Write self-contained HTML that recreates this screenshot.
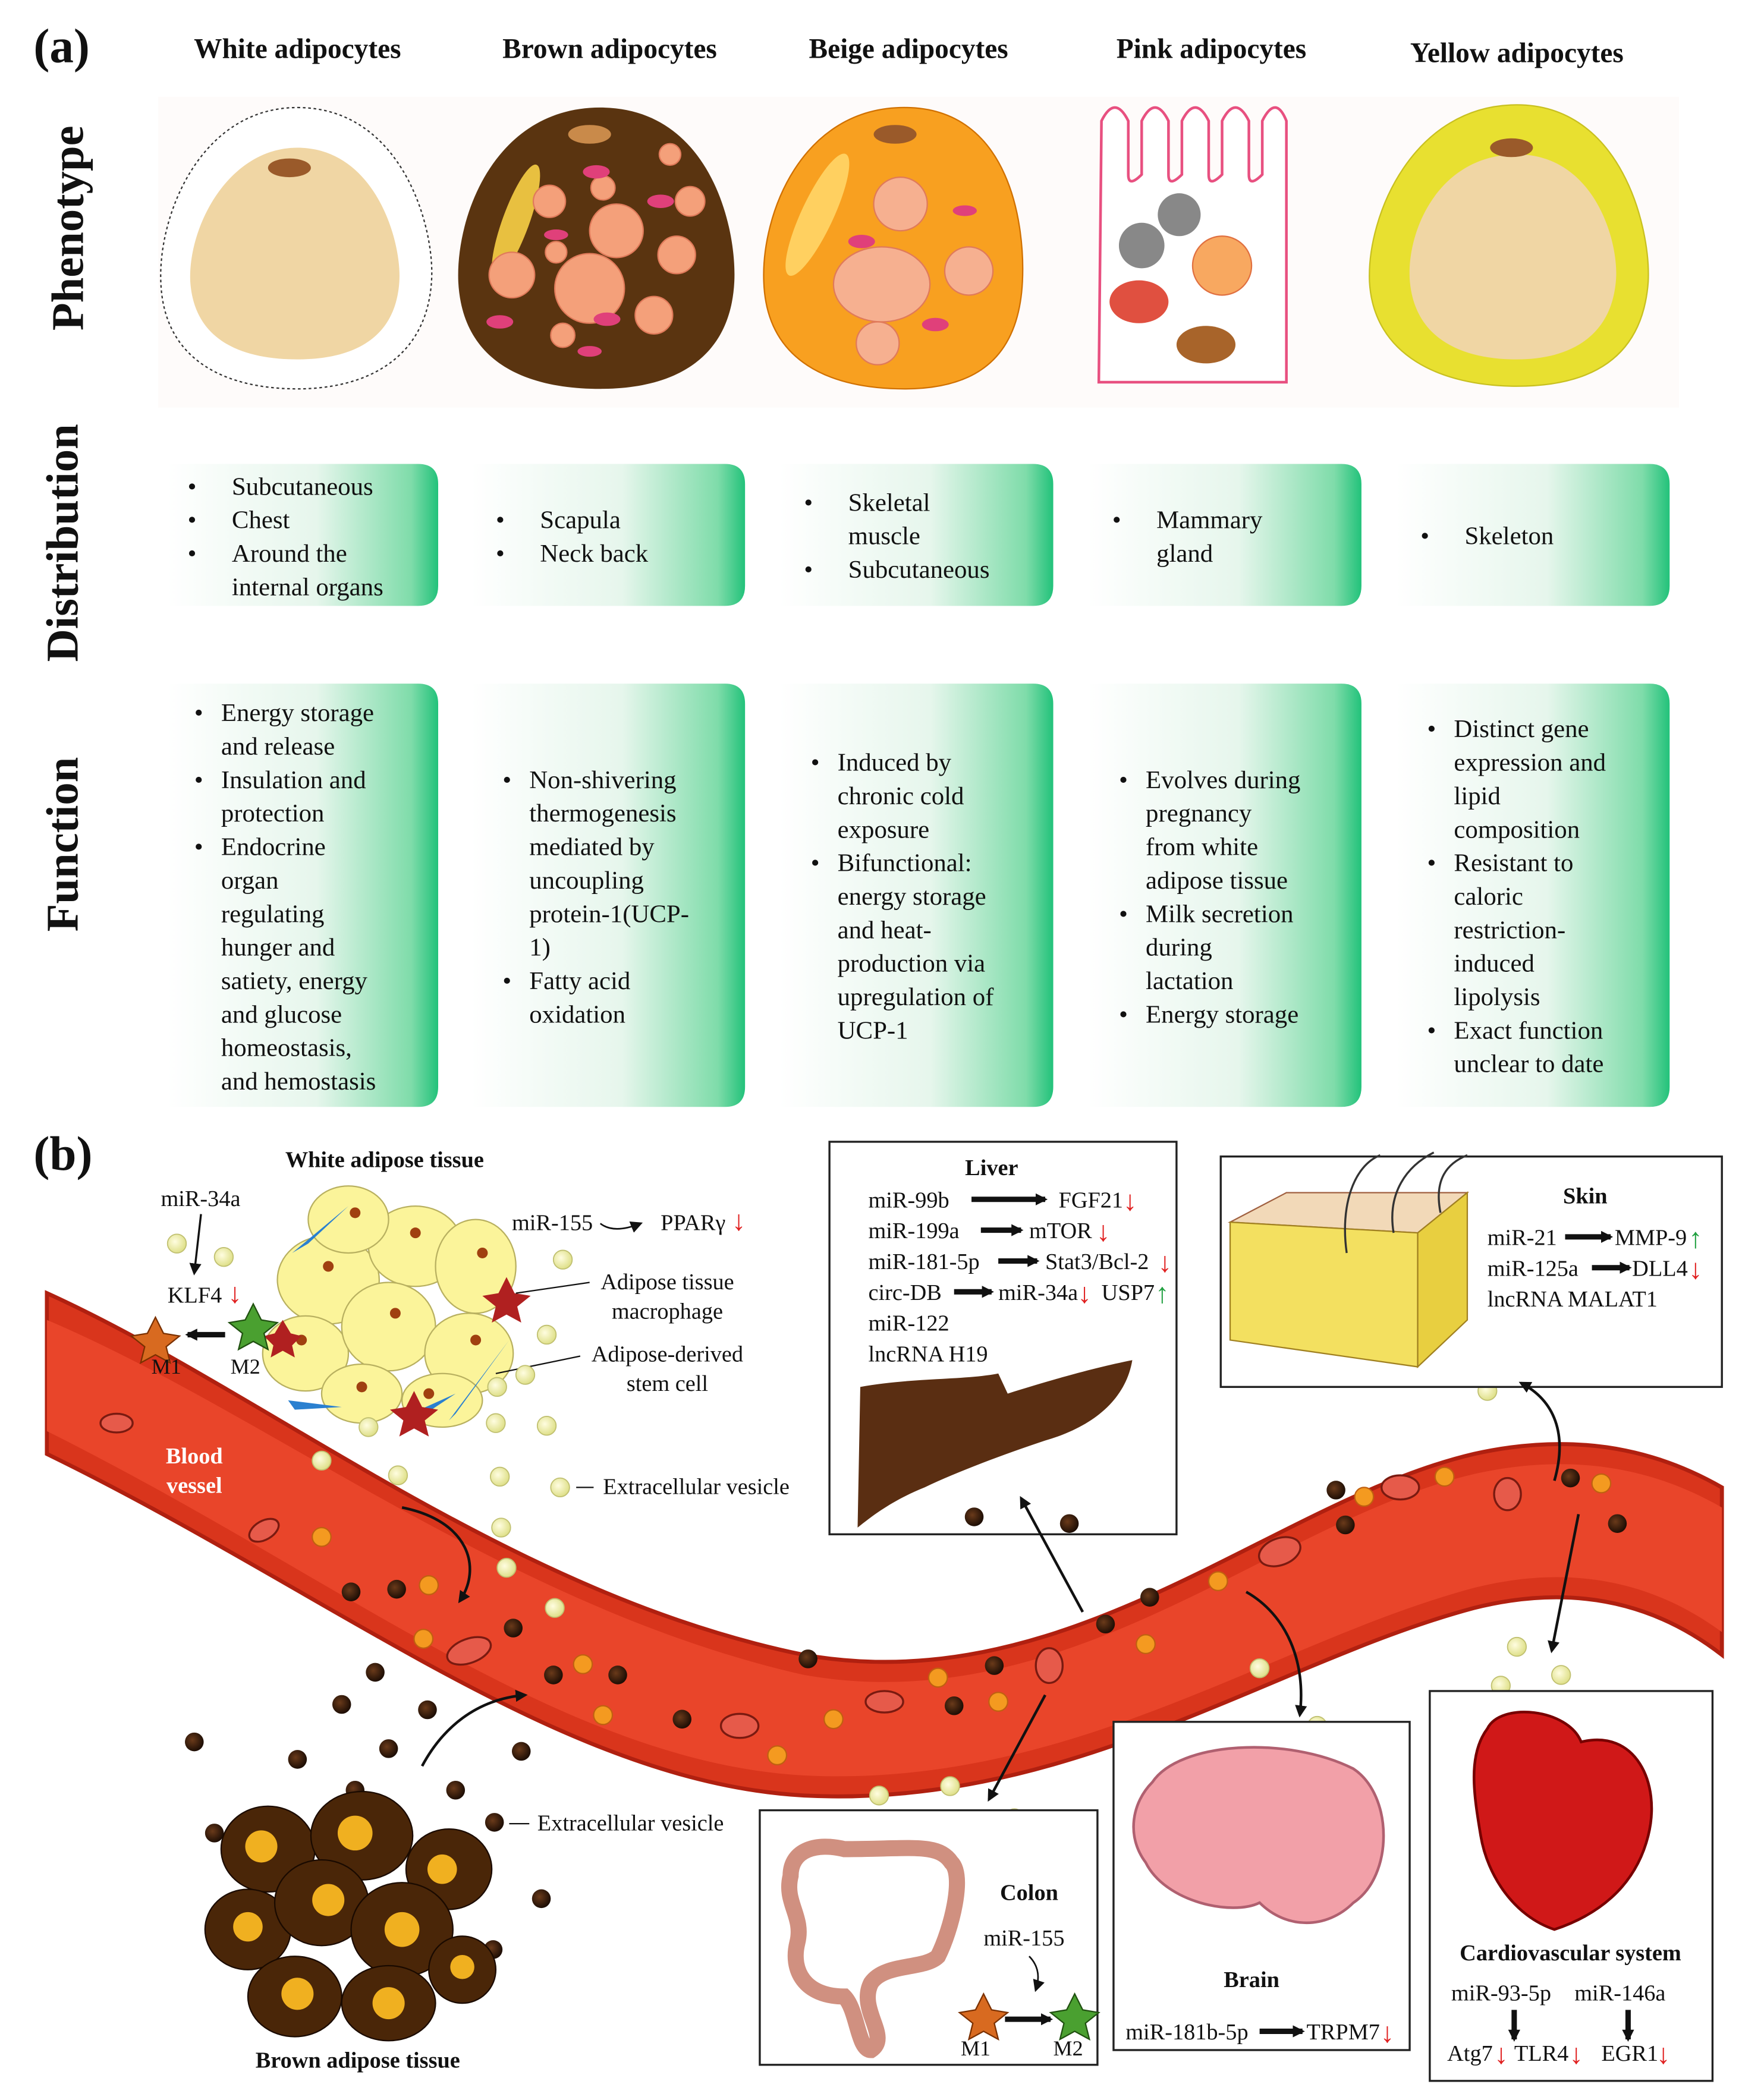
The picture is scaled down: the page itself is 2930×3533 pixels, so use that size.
<!DOCTYPE html>
<html><head><meta charset="utf-8">
<style>
html,body{margin:0;padding:0;background:#fff;}
svg{display:block;}
text{font-family:"Liberation Serif",serif;fill:#111;}
.b{font-weight:bold;}
.r{fill:#e02020;font-size:21px;font-weight:bold;}
.gr{fill:#20a040;font-size:21px;font-weight:bold;}
</style></head>
<body>
<svg width="2930" height="3533" viewBox="0 0 1300 1567" xmlns="http://www.w3.org/2000/svg">
<defs>
<linearGradient id="g" x1="0" x2="1" y1="0" y2="0">
<stop offset="0" stop-color="#ffffff"/><stop offset="0.55" stop-color="#e6f6ec"/><stop offset="0.9" stop-color="#7fdcaa"/><stop offset="1" stop-color="#22c27a"/>
</linearGradient>
<marker id="ar" viewBox="0 0 10 10" refX="8" refY="5" markerWidth="9" markerHeight="9" markerUnits="userSpaceOnUse" orient="auto"><path d="M0,0L10,5L0,10z" fill="#111"/></marker>
<radialGradient id="ev" cx="0.4" cy="0.4" r="0.6"><stop offset="0" stop-color="#fffde0"/><stop offset="1" stop-color="#dfe08a"/></radialGradient>
<radialGradient id="dv" cx="0.4" cy="0.4" r="0.6"><stop offset="0" stop-color="#6a3a1a"/><stop offset="1" stop-color="#1e0e05"/></radialGradient>
</defs>

<text x="25" y="46" class="b" font-size="36">(a)</text>
<g class="b" font-size="21" text-anchor="middle">
<text x="222" y="43" class="b">White adipocytes</text>
<text x="455" y="43" class="b">Brown adipocytes</text>
<text x="678" y="43" class="b">Beige adipocytes</text>
<text x="904" y="43" class="b">Pink adipocytes</text>
<text x="1132" y="46" class="b">Yellow adipocytes</text>
</g>
<g font-size="34" class="b" text-anchor="middle">
<text transform="translate(62,170) rotate(-90)" class="b">Phenotype</text>
<text transform="translate(58,405) rotate(-90)" class="b">Distribution</text>
<text transform="translate(58,630) rotate(-90)" class="b">Function</text>
</g>
<rect x="118" y="72" width="1135" height="232" fill="#fefbfa"/>

<path d="M222,80 C300,80 325,170 322,210 C318,270 270,290 222,290 C170,290 122,270 120,210 C118,160 150,80 222,80z" fill="#fff" stroke="#333" stroke-dasharray="2,2"/>
<path d="M222,110 C280,110 300,180 298,210 C295,255 260,268 222,268 C182,268 145,255 142,210 C140,170 170,110 222,110z" fill="#f0d6a4"/>
<ellipse cx="216" cy="125" rx="16" ry="7" fill="#9a5a2a"/>
<path d="M448,80 C530,80 550,170 548,210 C545,270 500,290 448,290 C392,290 345,270 342,210 C340,160 370,80 448,80z" fill="#5a3410"/>
<ellipse cx="440" cy="100" rx="16" ry="7" fill="#c98a4a"/>
<ellipse cx="385" cy="165" rx="10" ry="45" fill="#e8c040" transform="rotate(20 385 165)"/>
<g fill="#f4a07a" stroke="#e07a5a">
<circle cx="460" cy="172" r="20"/><circle cx="410" cy="150" r="12"/><circle cx="450" cy="140" r="9"/><circle cx="382" cy="205" r="17"/><circle cx="440" cy="215" r="26"/><circle cx="505" cy="190" r="14"/><circle cx="515" cy="150" r="11"/><circle cx="488" cy="235" r="14"/><circle cx="415" cy="188" r="8"/><circle cx="420" cy="250" r="9"/><circle cx="500" cy="115" r="8"/>
</g>
<g fill="#e0407a"><ellipse cx="445" cy="128" rx="10" ry="5"/><ellipse cx="493" cy="150" rx="10" ry="5"/><ellipse cx="415" cy="175" rx="9" ry="4"/><ellipse cx="373" cy="240" rx="10" ry="5"/><ellipse cx="453" cy="238" rx="10" ry="5"/><ellipse cx="440" cy="262" rx="9" ry="4"/></g>
<path d="M675,80 C755,80 765,170 763,210 C760,270 725,290 675,290 C620,290 572,270 570,210 C568,160 598,80 675,80z" fill="#f8a020" stroke="#d07000"/>
<ellipse cx="610" cy="160" rx="12" ry="50" fill="#ffd060" transform="rotate(25 610 160)"/>
<ellipse cx="668" cy="100" rx="16" ry="7" fill="#9a5a2a"/>
<g fill="#f6b090" stroke="#e07a5a"><circle cx="672" cy="152" r="20"/><ellipse cx="658" cy="212" rx="36" ry="28"/><circle cx="723" cy="202" r="18"/><circle cx="655" cy="256" r="16"/></g>
<g fill="#e0407a"><ellipse cx="643" cy="180" rx="10" ry="5"/><ellipse cx="720" cy="157" rx="9" ry="4"/><ellipse cx="698" cy="242" rx="10" ry="5"/></g>
<path d="M822,90 q10,-20 20,0 v40 q0,10 10,0 v-40 q10,-20 20,0 v40 q0,10 10,0 v-40 q10,-20 20,0 v40 q0,10 10,0 v-40 q10,-20 20,0 v40 q0,10 10,0 v-40 q10,-20 18,0 v195 h-140 z" fill="#fff" stroke="#e85080" stroke-width="2"/>
<circle cx="852" cy="183" r="17" fill="#888"/><circle cx="880" cy="160" r="16" fill="#888"/>
<circle cx="912" cy="198" r="22" fill="#f8a860" stroke="#e07040"/>
<ellipse cx="850" cy="225" rx="22" ry="16" fill="#e05040"/>
<ellipse cx="900" cy="257" rx="22" ry="14" fill="#a8642a"/>
<path d="M1132,78 C1210,78 1232,170 1230,210 C1226,265 1190,288 1132,288 C1075,288 1025,265 1022,210 C1020,160 1055,78 1132,78z" fill="#e8e030" stroke="#c8c020"/>
<path d="M1132,115 C1190,115 1208,180 1206,208 C1203,252 1170,268 1132,268 C1090,268 1055,252 1052,208 C1050,170 1075,115 1132,115z" fill="#f0d6a4"/>
<ellipse cx="1128" cy="110" rx="16" ry="7" fill="#9a5a2a"/>

<g fill="url(#g)">
<path d="M125,346 H312 Q327,346 327,361 V437 Q327,452 312,452 H125z"/>
<path d="M352,346 H541 Q556,346 556,361 V437 Q556,452 541,452 H352z"/>
<path d="M582,346 H771 Q786,346 786,361 V437 Q786,452 771,452 H582z"/>
<path d="M812,346 H1001 Q1016,346 1016,361 V437 Q1016,452 1001,452 H812z"/>
<path d="M1042,346 H1231 Q1246,346 1246,361 V437 Q1246,452 1231,452 H1042z"/>
</g>
<g font-size="19">
<text x="140" y="369">•</text><text x="173" y="369">Subcutaneous</text>
<text x="140" y="394">•</text><text x="173" y="394">Chest</text>
<text x="140" y="419">•</text><text x="173" y="419">Around the</text>
<text x="173" y="444">internal organs</text>
<text x="370" y="394">•</text><text x="403" y="394">Scapula</text>
<text x="370" y="419">•</text><text x="403" y="419">Neck back</text>
<text x="600" y="381">•</text><text x="633" y="381">Skeletal</text>
<text x="633" y="406">muscle</text>
<text x="600" y="431">•</text><text x="633" y="431">Subcutaneous</text>
<text x="830" y="394">•</text><text x="863" y="394">Mammary</text>
<text x="863" y="419">gland</text>
<text x="1060" y="406">•</text><text x="1093" y="406">Skeleton</text>
</g>

<g fill="url(#g)">
<path d="M125,510 H312 Q327,510 327,525 V811 Q327,826 312,826 H125z"/>
<path d="M352,510 H541 Q556,510 556,525 V811 Q556,826 541,826 H352z"/>
<path d="M582,510 H771 Q786,510 786,525 V811 Q786,826 771,826 H582z"/>
<path d="M812,510 H1001 Q1016,510 1016,525 V811 Q1016,826 1001,826 H812z"/>
<path d="M1042,510 H1231 Q1246,510 1246,525 V811 Q1246,826 1231,826 H1042z"/>
</g>
<g font-size="19">
<text x="145" y="538">•</text><text x="165" y="538">Energy storage</text><text x="165" y="563">and release</text>
<text x="145" y="588">•</text><text x="165" y="588">Insulation and</text><text x="165" y="613">protection</text>
<text x="145" y="638">•</text><text x="165" y="638">Endocrine</text><text x="165" y="663">organ</text><text x="165" y="688">regulating</text><text x="165" y="713">hunger and</text><text x="165" y="738">satiety, energy</text><text x="165" y="763">and glucose</text><text x="165" y="788">homeostasis,</text><text x="165" y="813">and hemostasis</text>
<text x="375" y="588">•</text><text x="395" y="588">Non-shivering</text><text x="395" y="613">thermogenesis</text><text x="395" y="638">mediated by</text><text x="395" y="663">uncoupling</text><text x="395" y="688">protein-1(UCP-</text><text x="395" y="713">1)</text>
<text x="375" y="738">•</text><text x="395" y="738">Fatty acid</text><text x="395" y="763">oxidation</text>
<text x="605" y="575">•</text><text x="625" y="575">Induced by</text><text x="625" y="600">chronic cold</text><text x="625" y="625">exposure</text>
<text x="605" y="650">•</text><text x="625" y="650">Bifunctional:</text><text x="625" y="675">energy storage</text><text x="625" y="700">and heat-</text><text x="625" y="725">production via</text><text x="625" y="750">upregulation of</text><text x="625" y="775">UCP-1</text>
<text x="835" y="588">•</text><text x="855" y="588">Evolves during</text><text x="855" y="613">pregnancy</text><text x="855" y="638">from white</text><text x="855" y="663">adipose tissue</text>
<text x="835" y="688">•</text><text x="855" y="688">Milk secretion</text><text x="855" y="713">during</text><text x="855" y="738">lactation</text>
<text x="835" y="763">•</text><text x="855" y="763">Energy storage</text>
<text x="1065" y="550">•</text><text x="1085" y="550">Distinct gene</text><text x="1085" y="575">expression and</text><text x="1085" y="600">lipid</text><text x="1085" y="625">composition</text>
<text x="1065" y="650">•</text><text x="1085" y="650">Resistant to</text><text x="1085" y="675">caloric</text><text x="1085" y="700">restriction-</text><text x="1085" y="725">induced</text><text x="1085" y="750">lipolysis</text>
<text x="1065" y="775">•</text><text x="1085" y="775">Exact function</text><text x="1085" y="800">unclear to date</text>
</g>

<text x="25" y="873" class="b" font-size="36">(b)</text>

<path d="M35,965 C200,1040 380,1190 600,1235 C800,1270 950,1120 1100,1085 C1190,1065 1250,1090 1285,1110 L1285,1235 C1240,1200 1180,1180 1100,1200 C950,1240 800,1350 600,1340 C420,1330 250,1190 35,1085z" fill="#d9351c" stroke="#b02010" stroke-width="3"/>
<path d="M35,985 C200,1055 380,1200 600,1250 C800,1285 950,1135 1100,1100 C1190,1080 1250,1105 1285,1125 L1285,1218 C1240,1185 1180,1165 1100,1185 C950,1225 800,1335 600,1325 C420,1315 250,1175 35,1068z" fill="#e9452a"/>
<text x="145" y="1092" class="b" font-size="17" text-anchor="middle" style="fill:#fff">Blood</text>
<text x="145" y="1114" class="b" font-size="17" text-anchor="middle" style="fill:#fff">vessel</text>
<g fill="#e65a4a" stroke="#7a1a10" stroke-width="1.5">
<ellipse cx="87" cy="1062" rx="12" ry="7"/><ellipse cx="197" cy="1142" rx="12" ry="7" transform="rotate(-30 197 1142)"/><ellipse cx="350" cy="1232" rx="17" ry="9" transform="rotate(-20 350 1232)"/><ellipse cx="552" cy="1288" rx="14" ry="9"/><ellipse cx="660" cy="1270" rx="14" ry="8"/><ellipse cx="783" cy="1243" rx="10" ry="13"/><ellipse cx="955" cy="1158" rx="16" ry="10" transform="rotate(-20 955 1158)"/><ellipse cx="1045" cy="1110" rx="14" ry="9"/><ellipse cx="1125" cy="1115" rx="10" ry="12"/>
</g>
<g fill="url(#dv)">
<circle cx="262" cy="1188" r="7"/><circle cx="296" cy="1186" r="7"/><circle cx="383" cy="1215" r="7"/><circle cx="413" cy="1250" r="7"/><circle cx="461" cy="1250" r="7"/><circle cx="509" cy="1283" r="7"/><circle cx="603" cy="1238" r="7"/><circle cx="712" cy="1273" r="7"/><circle cx="742" cy="1243" r="7"/><circle cx="825" cy="1212" r="7"/><circle cx="858" cy="1192" r="7"/><circle cx="997" cy="1112" r="7"/><circle cx="1004" cy="1138" r="7"/><circle cx="1172" cy="1103" r="7"/><circle cx="1207" cy="1137" r="7"/>
</g>
<g fill="#f49a20" stroke="#c06010">
<circle cx="240" cy="1147" r="7"/><circle cx="320" cy="1183" r="7"/><circle cx="316" cy="1223" r="7"/><circle cx="435" cy="1242" r="7"/><circle cx="450" cy="1280" r="7"/><circle cx="580" cy="1310" r="7"/><circle cx="622" cy="1283" r="7"/><circle cx="700" cy="1252" r="7"/><circle cx="745" cy="1270" r="7"/><circle cx="855" cy="1227" r="7"/><circle cx="909" cy="1180" r="7"/><circle cx="1018" cy="1117" r="7"/><circle cx="1078" cy="1102" r="7"/><circle cx="1195" cy="1107" r="7"/>
</g>

<text x="287" y="871" class="b" font-size="17" text-anchor="middle">White adipose tissue</text>
<g fill="#fbf49a" stroke="#b8b060">
<ellipse cx="245" cy="955" rx="38" ry="33"/><ellipse cx="310" cy="930" rx="35" ry="30"/><ellipse cx="355" cy="945" rx="30" ry="35"/><ellipse cx="228" cy="1010" rx="32" ry="28"/><ellipse cx="290" cy="990" rx="35" ry="33"/><ellipse cx="350" cy="1010" rx="33" ry="30"/><ellipse cx="270" cy="1040" rx="30" ry="22"/><ellipse cx="330" cy="1045" rx="30" ry="20"/><ellipse cx="260" cy="910" rx="30" ry="25"/>
</g>
<g fill="#a04010"><circle cx="245" cy="945" r="4"/><circle cx="310" cy="920" r="4"/><circle cx="360" cy="935" r="4"/><circle cx="225" cy="1000" r="4"/><circle cx="295" cy="980" r="4"/><circle cx="355" cy="1000" r="4"/><circle cx="270" cy="1035" r="4"/><circle cx="320" cy="1040" r="4"/><circle cx="265" cy="905" r="4"/></g>
<g fill="#2a80d0"><path d="M218,935 L260,900 L230,928z"/><path d="M300,1058 L340,1040 L310,1060z"/><path d="M215,1045 L255,1050 L220,1052z"/><path d="M335,1060 L380,1000 L340,1055z"/></g>
<g fill="#b02020"><path d="M372,965 l6,-12 l6,12 l12,2 l-10,8 l3,12 l-11,-6 l-11,6 l3,-12 l-10,-8z"/><path d="M303,1050 l6,-12 l6,12 l12,2 l-10,8 l3,12 l-11,-6 l-11,6 l3,-12 l-10,-8z"/><path d="M205,995 l6,-10 l6,10 l8,2 l-7,7 l2,9 l-9,-5 l-9,5 l2,-9 l-7,-7z"/></g>
<text x="120" y="900" font-size="17">miR-34a</text>
<line x1="150" y1="906" x2="145" y2="950" stroke="#111" stroke-width="1.5" marker-end="url(#ar)"/>
<text x="125" y="972" font-size="17">KLF4</text>
<text x="170" y="972" class="r">↓</text>
<path d="M110,995 l6,-12 l6,12 l12,2 l-10,8 l3,12 l-11,-6 l-11,6 l3,-12 l-10,-8z" fill="#d86a20" stroke="#7a3000"/>
<path d="M183,985 l6,-12 l6,12 l12,2 l-10,8 l3,12 l-11,-6 l-11,6 l3,-12 l-10,-8z" fill="#4aa030" stroke="#205010"/>
<line x1="168" y1="996" x2="140" y2="996" stroke="#111" stroke-width="4" marker-end="url(#ar)"/>
<text x="113" y="1025" font-size="16">M1</text><text x="172" y="1025" font-size="16">M2</text>
<text x="382" y="918" font-size="17">miR-155</text>
<path d="M448,913 q10,8 30,0" fill="none" stroke="#111" stroke-width="1.2" marker-end="url(#ar)"/>
<text x="493" y="918" font-size="17">PPARγ</text>
<text x="546" y="918" class="r">↓</text>
<text x="498" y="962" font-size="17" text-anchor="middle">Adipose tissue</text>
<text x="498" y="984" font-size="17" text-anchor="middle">macrophage</text>
<line x1="440" y1="957" x2="385" y2="965" stroke="#111"/>
<text x="498" y="1016" font-size="17" text-anchor="middle">Adipose-derived</text>
<text x="498" y="1038" font-size="17" text-anchor="middle">stem cell</text>
<line x1="433" y1="1012" x2="370" y2="1025" stroke="#111"/>
<g fill="url(#ev)" stroke="#c0c070" stroke-width="0.8">
<circle cx="132" cy="928" r="7"/><circle cx="167" cy="938" r="7"/><circle cx="420" cy="940" r="7"/><circle cx="408" cy="996" r="7"/><circle cx="392" cy="1026" r="7"/><circle cx="371" cy="1035" r="7"/><circle cx="370" cy="1062" r="7"/><circle cx="408" cy="1064" r="7"/><circle cx="275" cy="1065" r="7"/><circle cx="240" cy="1090" r="7"/><circle cx="297" cy="1101" r="7"/><circle cx="373" cy="1102" r="7"/><circle cx="418" cy="1110" r="7"/><circle cx="374" cy="1140" r="7"/><circle cx="378" cy="1170" r="7"/><circle cx="414" cy="1200" r="7"/><circle cx="768" cy="1095" r="7"/><circle cx="1125" cy="991" r="7"/><circle cx="1153" cy="1013" r="7"/><circle cx="1110" cy="1038" r="7"/><circle cx="1132" cy="1229" r="7"/><circle cx="1165" cy="1250" r="7"/><circle cx="1120" cy="1258" r="7"/><circle cx="940" cy="1245" r="7"/><circle cx="983" cy="1288" r="7"/><circle cx="656" cy="1340" r="7"/><circle cx="709" cy="1333" r="7"/><circle cx="757" cy="1357" r="7"/>
</g>
<line x1="430" y1="1110" x2="443" y2="1110" stroke="#111"/>
<text x="450" y="1115" font-size="17">Extracellular vesicle</text>
<path d="M300,1125 C350,1135 360,1170 343,1195" fill="none" stroke="#111" stroke-width="2" marker-end="url(#ar)"/>

<g fill="url(#dv)">
<circle cx="280" cy="1248" r="7"/><circle cx="255" cy="1272" r="7"/><circle cx="319" cy="1276" r="7"/><circle cx="290" cy="1305" r="7"/><circle cx="145" cy="1300" r="7"/><circle cx="222" cy="1313" r="7"/><circle cx="265" cy="1336" r="7"/><circle cx="340" cy="1336" r="7"/><circle cx="389" cy="1307" r="7"/><circle cx="369" cy="1360" r="7"/><circle cx="404" cy="1417" r="7"/><circle cx="368" cy="1455" r="7"/><circle cx="160" cy="1368" r="7"/>
</g>
<path d="M315,1318 C330,1290 355,1268 392,1265" fill="none" stroke="#111" stroke-width="2" marker-end="url(#ar)"/>
<line x1="380" y1="1361" x2="395" y2="1361" stroke="#111"/>
<text x="401" y="1366" font-size="17">Extracellular vesicle</text>
<g fill="#4a2608" stroke="#1a0a00">
<ellipse cx="200" cy="1380" rx="35" ry="32"/><ellipse cx="270" cy="1370" rx="38" ry="33"/><ellipse cx="335" cy="1395" rx="32" ry="30"/><ellipse cx="185" cy="1440" rx="32" ry="30"/><ellipse cx="240" cy="1420" rx="35" ry="32"/><ellipse cx="300" cy="1440" rx="38" ry="35"/><ellipse cx="220" cy="1490" rx="35" ry="30"/><ellipse cx="290" cy="1495" rx="35" ry="28"/><ellipse cx="345" cy="1470" rx="25" ry="25"/>
</g>
<g fill="#f0b020">
<circle cx="195" cy="1378" r="12"/><circle cx="265" cy="1368" r="13"/><circle cx="330" cy="1395" r="11"/><circle cx="185" cy="1438" r="11"/><circle cx="245" cy="1418" r="12"/><circle cx="300" cy="1440" r="13"/><circle cx="222" cy="1488" r="12"/><circle cx="290" cy="1495" r="12"/><circle cx="345" cy="1468" r="9"/>
</g>
<text x="267" y="1543" class="b" font-size="17" text-anchor="middle">Brown adipose tissue</text>

<rect x="619" y="852" width="259" height="293" fill="#fff" stroke="#222" stroke-width="1.5"/>
<text x="740" y="877" class="b" font-size="17" text-anchor="middle">Liver</text>
<g font-size="17">
<text x="648" y="901">miR-99b</text><text x="790" y="901">FGF21</text><text x="838" y="903" class="r">↓</text>
<text x="648" y="924">miR-199a</text><text x="768" y="924">mTOR</text><text x="818" y="926" class="r">↓</text>
<text x="648" y="947">miR-181-5p</text><text x="780" y="947">Stat3/Bcl-2</text><text x="864" y="949" class="r">↓</text>
<text x="648" y="970">circ-DB</text><text x="745" y="970">miR-34a</text><text x="804" y="972" class="r">↓</text><text x="822" y="970">USP7</text><text x="862" y="972" class="gr">↑</text>
<text x="648" y="993">miR-122</text>
<text x="648" y="1016">lncRNA H19</text>
</g>
<g stroke="#111" stroke-width="4" marker-end="url(#ar)">
<line x1="725" y1="895" x2="780" y2="895"/><line x1="732" y1="918" x2="762" y2="918"/><line x1="745" y1="941" x2="774" y2="941"/><line x1="712" y1="964" x2="740" y2="964"/>
</g>
<path d="M640,1140 L642,1035 C680,1028 720,1030 745,1025 L752,1040 C790,1028 820,1020 845,1015 C840,1045 815,1065 780,1075 C750,1085 715,1098 690,1110 C665,1120 650,1132 640,1140z" fill="#5a2e12"/>
<circle cx="727" cy="1132" r="7" fill="url(#dv)"/><circle cx="798" cy="1137" r="7" fill="url(#dv)"/>
<line x1="808" y1="1203" x2="762" y2="1118" stroke="#111" stroke-width="2" marker-end="url(#ar)"/>

<rect x="911" y="863" width="374" height="172" fill="#fff" stroke="#222" stroke-width="1.5"/>
<path d="M918,912 L960,890 L1095,890 L1058,920z" fill="#f2d9b8" stroke="#a06040"/>
<path d="M918,912 L1058,920 L1058,1020 L918,1000z" fill="#f3e060" stroke="#a08020"/>
<path d="M1058,920 L1095,890 L1095,985 L1058,1020z" fill="#e8cf40" stroke="#a08020"/>
<path d="M1005,935 C1000,900 1010,870 1030,862 M1040,920 C1035,890 1050,870 1070,860 M1075,905 C1070,880 1080,868 1095,862" fill="none" stroke="#333" stroke-width="1.5"/>
<text x="1183" y="898" class="b" font-size="17" text-anchor="middle">Skin</text>
<g font-size="17">
<text x="1110" y="929">miR-21</text><text x="1205" y="929">MMP-9</text><text x="1260" y="931" class="gr">↑</text>
<text x="1110" y="952">miR-125a</text><text x="1218" y="952">DLL4</text><text x="1260" y="954" class="r">↓</text>
<text x="1110" y="975">lncRNA MALAT1</text>
</g>
<g stroke="#111" stroke-width="4" marker-end="url(#ar)"><line x1="1168" y1="923" x2="1202" y2="923"/><line x1="1188" y1="946" x2="1216" y2="946"/></g>
<path d="M1160,1105 C1170,1070 1160,1045 1135,1032" fill="none" stroke="#111" stroke-width="2" marker-end="url(#ar)"/>

<rect x="831" y="1285" width="221" height="245" fill="#fff" stroke="#222" stroke-width="1.5"/>
<path d="M860,1330 C880,1300 960,1295 1010,1320 C1040,1340 1040,1400 1010,1420 C990,1440 960,1440 940,1420 C920,1430 870,1420 855,1390 C840,1370 845,1345 860,1330z" fill="#f2a0a8" stroke="#b06070" stroke-width="2"/>
<text x="934" y="1483" class="b" font-size="17" text-anchor="middle">Brain</text>
<text x="840" y="1522" font-size="17">miR-181b-5p</text><text x="975" y="1522" font-size="17">TRPM7</text><text x="1030" y="1524" class="r">↓</text>
<line x1="940" y1="1516" x2="972" y2="1516" stroke="#111" stroke-width="4" marker-end="url(#ar)"/>
<path d="M930,1188 C960,1205 975,1240 970,1280" fill="none" stroke="#111" stroke-width="2" marker-end="url(#ar)"/>

<rect x="1067" y="1262" width="211" height="291" fill="#fff" stroke="#222" stroke-width="1.5"/>
<path d="M1110,1290 C1120,1270 1170,1275 1180,1300 C1220,1290 1240,1330 1230,1370 C1220,1410 1190,1430 1160,1440 C1130,1430 1110,1400 1105,1370 C1100,1340 1095,1310 1110,1290z" fill="#d01818" stroke="#700" stroke-width="2"/>
<text x="1172" y="1463" class="b" font-size="17" text-anchor="middle">Cardiovascular system</text>
<g font-size="17">
<text x="1083" y="1493">miR-93-5p</text><text x="1175" y="1493">miR-146a</text>
<text x="1080" y="1538">Atg7</text><text x="1115" y="1540" class="r">↓</text><text x="1130" y="1538">TLR4</text><text x="1171" y="1540" class="r">↓</text><text x="1195" y="1538">EGR1</text><text x="1236" y="1540" class="r">↓</text>
</g>
<g stroke="#111" stroke-width="4" marker-end="url(#ar)"><line x1="1130" y1="1500" x2="1130" y2="1522"/><line x1="1215" y1="1500" x2="1215" y2="1522"/></g>
<line x1="1178" y1="1130" x2="1158" y2="1232" stroke="#111" stroke-width="2" marker-end="url(#ar)"/>

<rect x="567" y="1351" width="252" height="190" fill="#fff" stroke="#222" stroke-width="1.5"/>
<path d="M590,1400 C590,1380 610,1375 630,1380 C680,1380 700,1375 710,1390 C720,1400 710,1440 700,1460 C690,1470 660,1465 650,1480 C640,1500 665,1520 650,1530 C640,1530 640,1500 630,1490 C600,1490 590,1470 595,1450 C600,1430 585,1420 590,1400z" fill="none" stroke="#d09080" stroke-width="12"/>
<text x="768" y="1418" class="b" font-size="17" text-anchor="middle">Colon</text>
<text x="734" y="1452" font-size="17">miR-155</text>
<path d="M768,1460 q10,10 5,25" fill="none" stroke="#111" stroke-width="1.2" marker-end="url(#ar)"/>
<path d="M728,1500 l6,-12 l6,12 l12,2 l-10,8 l3,12 l-11,-6 l-11,6 l3,-12 l-10,-8z" fill="#d86a20" stroke="#7a3000"/>
<path d="M796,1500 l6,-12 l6,12 l12,2 l-10,8 l3,12 l-11,-6 l-11,6 l3,-12 l-10,-8z" fill="#4aa030" stroke="#205010"/>
<line x1="750" y1="1507" x2="784" y2="1507" stroke="#111" stroke-width="4" marker-end="url(#ar)"/>
<text x="717" y="1534" font-size="16">M1</text><text x="786" y="1534" font-size="16">M2</text>
<line x1="780" y1="1265" x2="738" y2="1343" stroke="#111" stroke-width="2" marker-end="url(#ar)"/>
</svg>
</body></html>
